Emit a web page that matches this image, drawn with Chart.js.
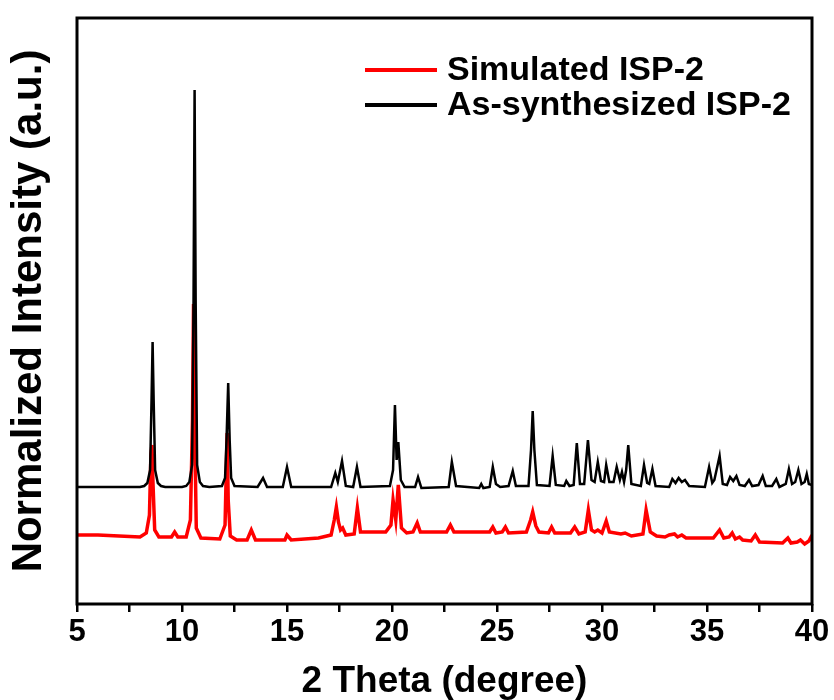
<!DOCTYPE html>
<html>
<head>
<meta charset="utf-8">
<script src="https://cdn.jsdelivr.net/npm/chart.js@4.4.1/dist/chart.umd.min.js"></script>
<style>
	html, body { margin: 0; padding: 0; background: #fff; }
	#wrap { position: relative; width: 834px; height: 700px; }
</style>
</head>
<body>
<div id="wrap"><canvas id="xrd"></canvas></div>
<script>
const FONT = '"Liberation Sans", Arial, sans-serif';

// simulated pattern (red)
const simX = [5.0, 6.0, 7.0, 8.0, 8.3, 8.45, 8.52, 8.57, 8.62, 8.7, 8.9, 9.5, 9.65, 9.8, 10.2, 10.4, 10.5, 10.55, 10.6, 10.68, 10.9,
	11.8, 12.05, 12.12, 12.15, 12.2, 12.3, 12.6, 13.1, 13.3, 13.5, 14.9, 15.0, 15.2, 16.5, 17.1, 17.25, 17.35, 17.45, 17.55, 17.65, 17.8,
	18.2, 18.35, 18.5, 19.7, 19.95, 20.05, 20.18, 20.3, 20.45, 20.7, 21.0, 21.2, 21.35, 22.6, 22.78, 22.95, 24.65, 24.8, 24.95,
	25.25, 25.4, 25.55, 26.4, 26.6, 26.7, 26.85, 27.0, 27.45, 27.6, 27.75, 28.5, 28.7, 28.9, 29.2, 29.35, 29.5, 29.65, 29.8, 30.0,
	30.2, 30.35, 30.9, 31.1, 31.4, 31.95, 32.1, 32.3, 32.6, 33.0, 33.2, 33.45, 33.6, 33.8, 34.0, 35.3, 35.6, 35.8, 36.05, 36.2,
	36.35, 36.55, 36.7, 37.1, 37.3, 37.5, 38.6, 38.85, 39.0, 39.3, 39.45, 39.65, 39.85, 40.0];
const simY = [69, 69, 68, 67, 71, 89, 150, 159, 120, 74, 67, 67, 72, 67, 67, 84, 184, 300, 184, 76, 66,
	65, 79, 144, 171, 104, 68, 64, 64, 74, 64, 64, 69, 64, 66, 69, 84, 97, 82, 74, 76, 69,
	70, 96, 72, 72, 79, 104, 84, 119, 76, 71, 72, 81, 72, 72, 79, 72, 72, 77, 71,
	72, 77, 71, 72, 84, 92, 78, 72, 71, 77, 71, 71, 77, 70, 72, 94, 74, 72, 74, 71,
	83, 72, 70, 71, 68, 70, 94, 72, 68, 67, 69, 70, 67, 69, 66, 66, 74, 66, 67, 71,
	65, 67, 64, 63, 69, 62, 61, 66, 61, 62, 64, 60, 63, 69];

// as-synthesized pattern (black)
const asX = [5.0, 8.0, 8.2, 8.35, 8.48, 8.55, 8.6, 8.65, 8.72, 8.85, 9.0, 9.2, 10.0, 10.2, 10.35, 10.48, 10.55, 10.6, 10.65, 10.72,
	10.85, 11.0, 11.3, 11.9, 12.05, 12.12, 12.2, 12.27, 12.34, 12.5, 13.6, 13.86, 14.05, 14.8, 15.0, 15.2, 17.1, 17.3, 17.42, 17.62,
	17.8, 18.15, 18.33, 18.5, 19.9, 20.05, 20.14, 20.22, 20.3, 20.42, 20.6, 21.1, 21.24, 21.4, 22.7, 22.85, 23.05, 24.15, 24.25,
	24.35, 24.65, 24.8, 24.95, 25.15, 25.55, 25.75, 25.9, 26.5, 26.62, 26.7, 26.78, 26.9, 27.5, 27.65, 27.8, 28.2, 28.3, 28.45,
	28.65, 28.8, 28.95, 29.15, 29.33, 29.5, 29.65, 29.8, 29.95, 30.1, 30.2, 30.35, 30.55, 30.7, 30.85, 30.95, 31.05, 31.15,
	31.25, 31.4, 31.85, 32.0, 32.15, 32.25, 32.4, 32.55, 33.2, 33.35, 33.5, 33.65, 33.8, 33.95, 34.15, 34.9, 35.1, 35.25,
	35.35, 35.6, 35.75, 35.95, 36.1, 36.25, 36.4, 36.55, 36.8, 37.0, 37.15, 37.45, 37.65, 37.8, 38.1, 38.3, 38.45, 38.75,
	38.9, 39.05, 39.2, 39.35, 39.5, 39.65, 39.75, 39.85, 40.0];
const asY = [117, 117, 118, 121, 134, 204, 262, 204, 134, 121, 118, 117, 117, 118, 122, 139, 304, 514, 304, 139,
	122, 118, 117, 118, 126, 164, 221, 164, 126, 118, 117, 126, 117, 117, 137, 117, 117, 131, 122, 143,
	118, 117, 137, 117, 118, 134, 199, 144, 162, 124, 117, 117, 127, 116, 117, 142, 118, 116, 120,
	116, 117, 137, 120, 117, 118, 133, 118, 118, 154, 193, 154, 119, 118, 148, 119, 118, 123, 118,
	119, 161, 120, 120, 164, 124, 122, 142, 123, 122, 139, 122, 122, 137, 124, 132, 122, 134,
	159, 120, 118, 139, 121, 120, 135, 118, 117, 125, 121, 126, 122, 124, 118, 117, 137, 121,
	124, 148, 120, 119, 127, 123, 128, 119, 118, 124, 118, 119, 128, 118, 118, 125, 117, 120,
	135, 120, 122, 134, 120, 122, 130, 120, 119];

const xTicks = [5, 10, 15, 20, 25, 30, 35, 40];

const toPoints = (xs, ys) => xs.map((x, i) => ({ x: x, y: ys[i] }));

// box around the plot + legend inside
const frameAndLegend = {
	id: 'frameAndLegend',
	afterDraw(chart) {
		const { ctx, chartArea } = chart;
		ctx.save();
		ctx.strokeStyle = '#000';
		ctx.lineWidth = 3;
		ctx.strokeRect(chartArea.left, chartArea.top, chartArea.right - chartArea.left, chartArea.bottom - chartArea.top);

		ctx.font = 'bold 34px ' + FONT;
		ctx.textBaseline = 'middle';
		ctx.textAlign = 'left';
		chart.data.datasets.forEach((ds, i) => {
			const y = 70 + i * 35;
			ctx.strokeStyle = ds.borderColor;
			ctx.lineWidth = 4;
			ctx.beginPath();
			ctx.moveTo(365, y);
			ctx.lineTo(437, y);
			ctx.stroke();
			ctx.fillStyle = '#000';
			ctx.fillText(ds.label, 447, y + 1);
		});
		ctx.restore();
	}
};

new Chart(document.getElementById('xrd').getContext('2d'), {
	type: 'line',
	data: {
		datasets: [
			{
				label: 'Simulated ISP-2',
				data: toPoints(simX, simY),
				borderColor: '#ff0000',
				borderWidth: 3.5,
				pointRadius: 0,
				tension: 0,
				order: 1,
			},
			{
				label: 'As-synthesized ISP-2',
				data: toPoints(asX, asY),
				borderColor: '#000000',
				borderWidth: 2.5,
				pointRadius: 0,
				tension: 0,
				order: 0,
			},
		],
	},
	options: {
		responsive: true,
		maintainAspectRatio: false,
		animation: false,
		layout: { padding: { top: 18, right: 22, left: 0, bottom: 0 } },
		plugins: {
			legend: { display: false },
			tooltip: { enabled: false },
		},
		scales: {
			x: {
				type: 'linear',
				min: 5,
				max: 40,
				afterFit(scale) { scale.height = 96; },
				afterBuildTicks(scale) {
					const t = [];
					for (let v = 5; v <= 40; v += 2.5) t.push({ value: v });
					scale.ticks = t;
				},
				ticks: {
					autoSkip: false,
					maxRotation: 0,
					padding: 2,
					color: '#000',
					font: { family: FONT, size: 31, weight: 'bold' },
					callback: (v) => (xTicks.includes(v) ? String(v) : ''),
				},
				grid: {
					drawOnChartArea: false,
					drawTicks: true,
					tickLength: 8,
					color: '#000',
					lineWidth: 2.5,
				},
				border: { display: false },
				title: {
					display: true,
					text: '2 Theta (degree)',
					color: '#000',
					padding: { top: 0, bottom: 0 },
					font: { family: FONT, size: 37, weight: 'bold', lineHeight: 1.0 },
				},
			},
			y: {
				min: 0,
				max: 586,
				afterFit(scale) { scale.width = 77; },
				ticks: { display: false },
				grid: { display: false },
				border: { display: false },
				title: {
					display: true,
					text: 'Normalized Intensity (a.u.)',
					color: '#000',
					padding: { top: 8, bottom: 0 },
					font: { family: FONT, size: 42, weight: 'bold', lineHeight: 1.0 },
				},
			},
		},
	},
	plugins: [frameAndLegend],
});
</script>
</body>
</html>
